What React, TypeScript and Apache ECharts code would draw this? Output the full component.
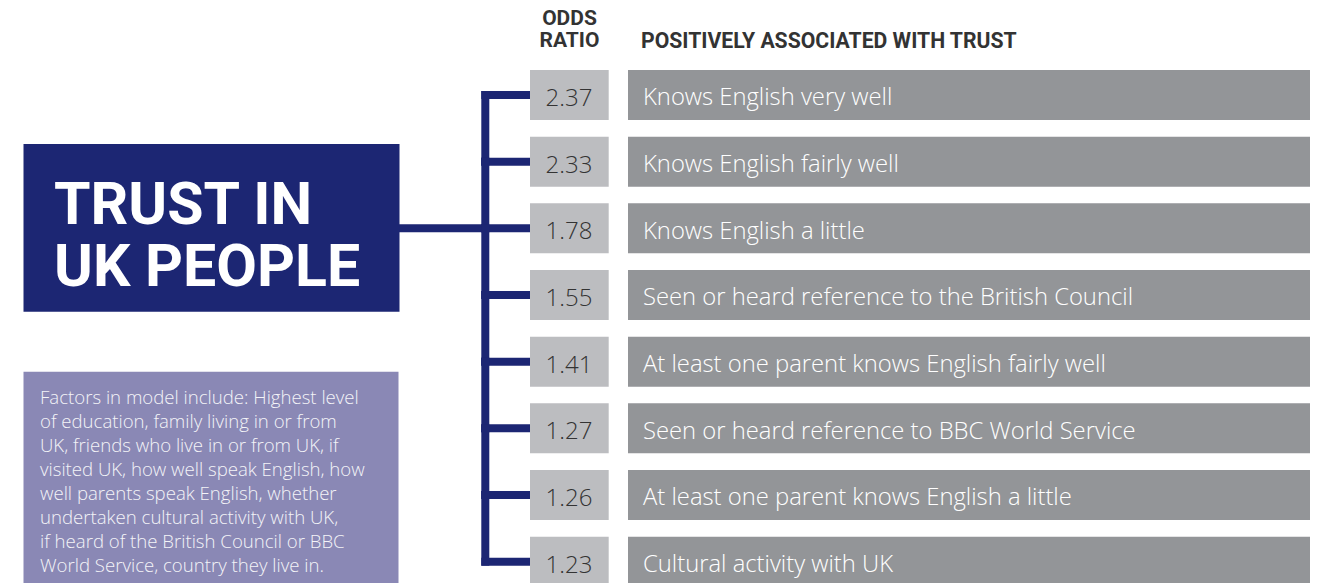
import React, { useEffect, useRef } from "react";
import * as echarts from "echarts";

const factors: string[] = [
  "Knows English very well",
  "Knows English fairly well",
  "Knows English a little",
  "Seen or heard reference to the British Council",
  "At least one parent knows English fairly well",
  "Seen or heard reference to BBC World Service",
  "At least one parent knows English a little",
  "Cultural activity with UK",
];
const oddsRatios: number[] = [2.37, 2.33, 1.78, 1.55, 1.41, 1.27, 1.26, 1.23];

const titleLines: string[] = ["TRUST IN", "UK PEOPLE"];
const headerOdds: string[] = ["ODDS", "RATIO"];
const headerFactors = "POSITIVELY ASSOCIATED WITH TRUST";
const noteLines: string[] = [
  "Factors in model include: Highest level",
  "of education, family living in or from",
  "UK, friends who live in or from UK, if",
  "visited UK, how well speak English, how",
  "well parents speak English, whether",
  "undertaken cultural activity with UK,",
  "if heard of the British Council or BBC",
  "World Service, country they live in.",
];

const NAVY = "#1c2673";
const GRAY = "#939598";
const LIGHT = "#bcbdc0";
const PURPLE = "#8a88b5";

export default function App() {
  const ref = useRef<HTMLDivElement>(null);
  useEffect(() => {
    document.body.style.margin = "0";
    if (!ref.current) return;
    const chart = echarts.init(ref.current, null, { renderer: "svg" });
    const n = factors.length;
    chart.setOption({
      animation: false,
      grid: { left: 0, right: 0, top: 28.33, bottom: 0 },
      xAxis: { type: "value", min: 0, max: 1319, show: false },
      yAxis: {
        type: "value",
        inverse: true,
        min: -1,
        max: 7.32,
        show: false,
      },
      series: [
        {
          type: "custom",
          data: oddsRatios.map((v, i) => [v, i]),
          clip: false,
          renderItem: (params: any, api: any) => {
            const idx = api.value(1);
            const odds = api.value(0);
            const yc = api.coord([0, idx])[1];
            const band = api.size([0, 1])[1];
            const h = band * 0.75;
            const t = 8;
            const vx = 481.3;
            const children: any[] = [
              {
                type: "rect",
                shape: { x: 530, y: yc - h / 2, width: 78.7, height: h },
                style: { fill: LIGHT },
              },
              {
                type: "rect",
                shape: { x: 628, y: yc - h / 2, width: 682, height: h },
                style: { fill: GRAY },
              },
              {
                type: "rect",
                shape: { x: vx, y: yc - t / 2, width: 530 - vx, height: t },
                style: { fill: NAVY },
              },
              {
                type: "text",
                x: 569,
                y: yc + 1.5,
                style: {
                  text: odds.toFixed(2),
                  fill: "#333333",
                  fontSize: 24,
                  fontWeight: 300,
                  fontFamily: "Open Sans",
                  align: "center",
                  verticalAlign: "middle",
                },
              },
              {
                type: "text",
                x: 643,
                y: yc + 1.5,
                style: {
                  text: factors[idx],
                  fill: "#ffffff",
                  fontSize: 23.8,
                  fontWeight: 300,
                  fontFamily: "Open Sans",
                  align: "left",
                  verticalAlign: "middle",
                },
              },
            ];
            if (idx < n - 1) {
              children.push({
                type: "rect",
                shape: { x: vx, y: yc - t / 2, width: t, height: band + t },
                style: { fill: NAVY },
              });
            }
            return { type: "group", children };
          },
        },
      ],
      graphic: [
        {
          type: "rect",
          shape: { x: 23.5, y: 144, width: 376, height: 167.7 },
          style: { fill: NAVY },
        },
        {
          type: "rect",
          shape: { x: 399, y: 224.3, width: 84, height: 8 },
          style: { fill: NAVY },
        },
        {
          type: "text",
          x: 54,
          y: 234,
          style: {
            text: titleLines.join("\n"),
            fill: "#ffffff",
            fontSize: 59,
            lineHeight: 62,
            fontWeight: "bold",
            fontFamily: "Roboto",
            align: "left",
            verticalAlign: "middle",
          },
        },
        {
          type: "rect",
          shape: { x: 23.5, y: 371.7, width: 375, height: 220 },
          style: { fill: PURPLE },
        },
        {
          type: "text",
          x: 40,
          y: 384,
          style: {
            text: noteLines.join("\n"),
            fill: "#f4f4f8",
            fontSize: 18.6,
            fontWeight: 300,
            lineHeight: 24,
            fontFamily: "Open Sans",
            align: "left",
            verticalAlign: "top",
          },
        },
        {
          type: "text",
          x: 569.5,
          y: 29,
          style: {
            text: headerOdds.join("\n"),
            fill: "#333333",
            fontSize: 21,
            lineHeight: 22,
            fontWeight: "bold",
            fontFamily: "Roboto",
            align: "center",
            verticalAlign: "middle",
          },
        },
        {
          type: "text",
          x: 641,
          y: 40,
          style: {
            text: headerFactors,
            fill: "#333333",
            fontSize: 21.2,
            fontWeight: "bold",
            fontFamily: "Roboto",
            align: "left",
            verticalAlign: "middle",
          },
        },
      ],
    });
    return () => chart.dispose();
  }, []);
  return <div ref={ref} style={{ width: 1319, height: 583 }} />;
}
